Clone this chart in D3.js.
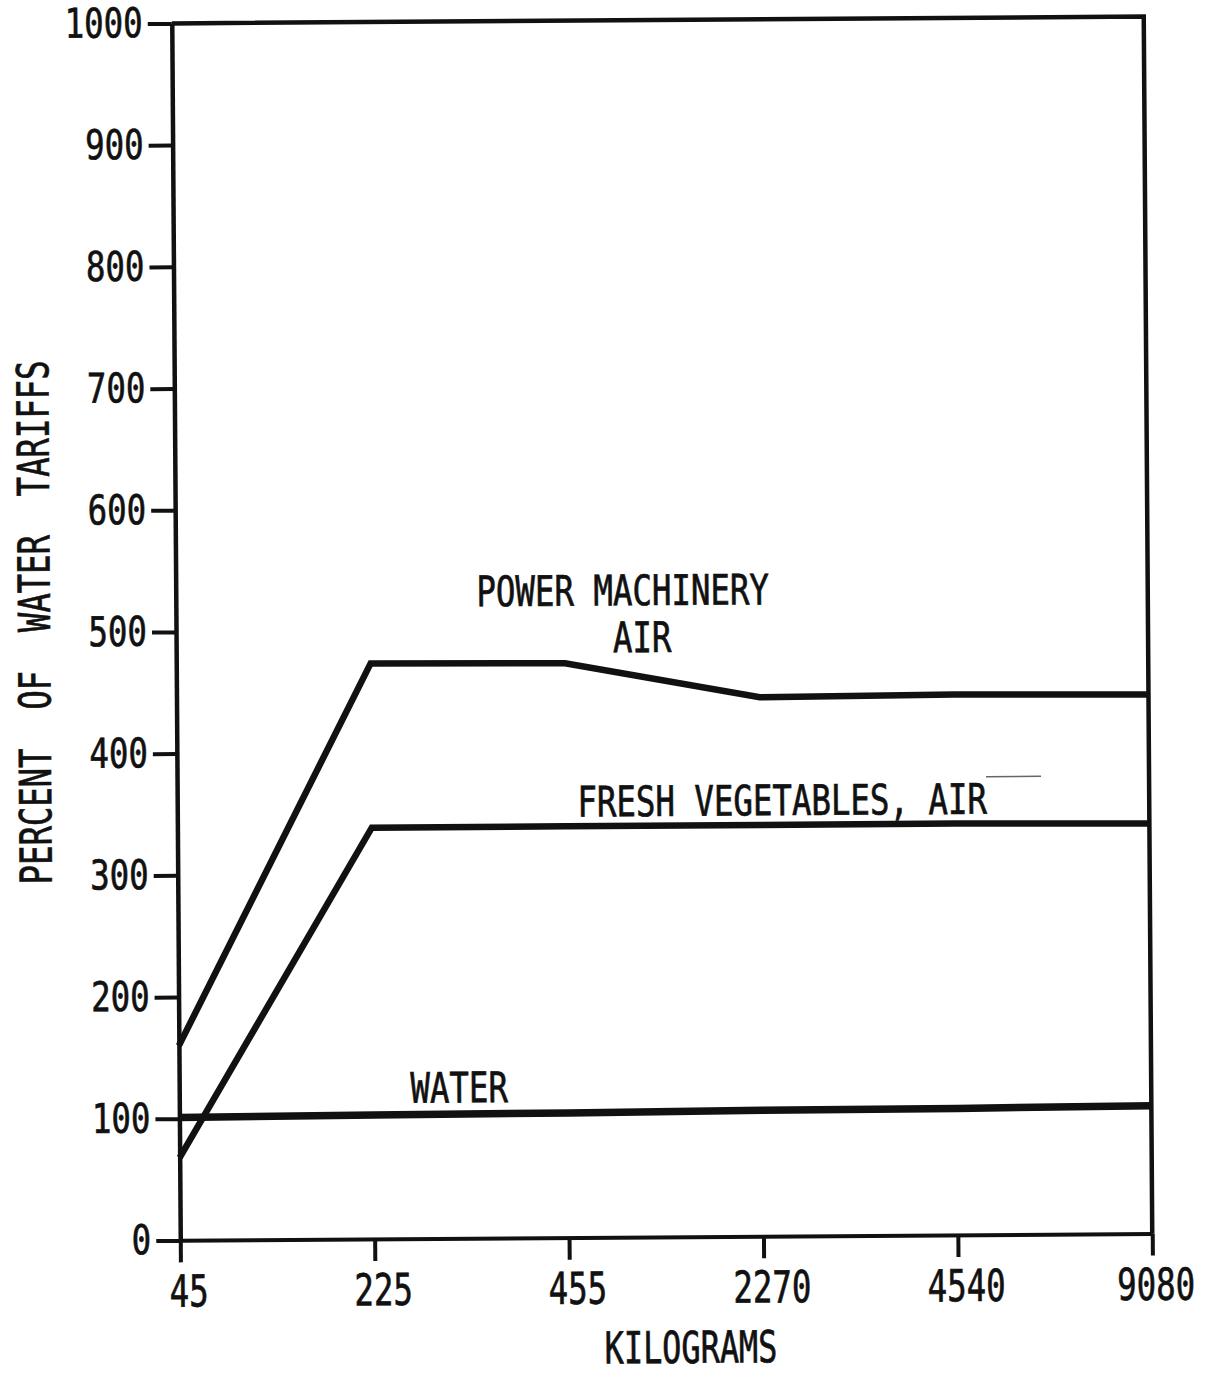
<!DOCTYPE html>
<html>
<head>
<meta charset="utf-8">
<script src="https://cdn.jsdelivr.net/npm/d3@7"></script>
<style>
  html, body { margin: 0; padding: 0; background: #fff; }
  svg { display: block; }
  text { font-family: "DejaVu Sans Mono", "Liberation Mono", monospace; fill: #111; stroke: #111; stroke-width: 0.7px; }
</style>
</head>
<body>
<svg id="chart" width="1212" height="1374"></svg>
<script>
// Shipment weight classes (kg), evenly spaced on the x axis
const kilograms = ["45", "225", "455", "2270", "4540", "9080"];

// Tariffs as a percent of the water tariff
const powerMachineryAir = [160, 473, 472, 443, 444, 443];
const freshVegetablesAir = [68, 338, 338, 338, 338, 337];
const water = [101, 102, 102.5, 103.5, 104, 105];

const yTicks = [0, 100, 200, 300, 400, 500, 600, 700, 800, 900, 1000];

const seriesNames = ["POWER MACHINERY", "AIR", "FRESH VEGETABLES, AIR", "WATER"];
const xTitle = "KILOGRAMS";
const yTitle = "PERCENT  OF  WATER  TARIFFS";

const INK = "#111";
const FONT = '"DejaVu Sans Mono", "Liberation Mono", monospace';
const CHAR_W = 19.5;              // typewriter advance per character
const MONO_ADV = 0.602;           // DejaVu Sans Mono advance, in em

const svg = d3.select("#chart");
const plot = { left: 176, right: 1148, top: 20, bottom: 1237 };

const x = d3.scalePoint().domain(kilograms).range([plot.left, plot.right]);
const y = d3.scaleLinear().domain([0, 1000]).range([plot.bottom, plot.top]);

// The whole sheet sits very slightly askew
const g = svg.append("g").attr("transform", "rotate(-0.4,662,628)");

function condense(sel, perChar) {
  sel.each(function () {
    const t = d3.select(this);
    const n = t.text().length;
    t.attr("textLength", n * perChar).attr("lengthAdjust", "spacingAndGlyphs");
  });
}

// Top and right frame
g.append("path")
  .attr("d", `M${plot.left},${y(1000)}H${plot.right}V${y(0)}`)
  .attr("fill", "none")
  .attr("stroke", INK)
  .attr("stroke-width", 4.5);

// Y axis
const yAxis = g.append("g")
  .attr("transform", `translate(${plot.left},0)`)
  .call(d3.axisLeft(y).tickValues(yTicks).tickSize(24).tickSizeOuter(0)
    .tickPadding(5).tickFormat(d3.format("d")));
yAxis.attr("font-family", FONT).attr("font-size", 41).attr("color", INK);
yAxis.select(".domain").attr("stroke-width", 4.5);
yAxis.selectAll(".tick line").attr("stroke-width", 4);
yAxis.selectAll(".tick text").call(condense, CHAR_W);

// X axis: labels narrowed with a horizontal scale
const X_FONT = 44;
const xSquash = CHAR_W / (X_FONT * MONO_ADV);
const xAxis = g.append("g")
  .attr("transform", `translate(0,${plot.bottom})`)
  .call(d3.axisBottom(x).tickSize(22).tickSizeOuter(0).tickPadding(13));
xAxis.attr("font-family", FONT).attr("font-size", X_FONT).attr("color", INK);
xAxis.select(".domain").attr("stroke-width", 4);
xAxis.selectAll(".tick line").attr("stroke-width", 4);
xAxis.selectAll(".tick text")
  .attr("transform", `scale(${xSquash},1)`)
  .attr("dx", (d, i, n) => (i === n.length - 1 ? 3 : 8) / xSquash);

// Series lines
const line = d3.line()
  .x((d, i) => x(kilograms[i]))
  .y(d => y(d));

[
  { values: powerMachineryAir, width: 6.5 },
  { values: freshVegetablesAir, width: 6.5 },
  { values: water, width: 7.5 }
].forEach(s => {
  g.append("path")
    .datum(s.values)
    .attr("d", line)
    .attr("fill", "none")
    .attr("stroke", INK)
    .attr("stroke-width", s.width)
    .attr("stroke-linejoin", "miter");
});

// Series labels
const labels = [
  { text: seriesNames[0], x: 623, y: 605 },
  { text: seriesNames[1], x: 642, y: 652 },
  { text: seriesNames[2], x: 781, y: 816 },
  { text: seriesNames[3], x: 456, y: 1101 }
];
labels.forEach(l => {
  g.append("text")
    .attr("x", l.x)
    .attr("y", l.y)
    .attr("text-anchor", "middle")
    .attr("font-size", 42)
    .text(l.text)
    .call(condense, CHAR_W);
});

// Stray rule above the vegetables label
g.append("line")
  .attr("x1", 985).attr("x2", 1040)
  .attr("y1", 779).attr("y2", 779)
  .attr("stroke", "#666")
  .attr("stroke-width", 1.5);

// Axis titles
g.append("text")
  .attr("x", 686)
  .attr("y", 1363)
  .attr("text-anchor", "middle")
  .attr("font-size", 44)
  .text(xTitle)
  .call(condense, 19.2);

g.append("text")
  .attr("transform", "translate(50,618) rotate(-90)")
  .attr("text-anchor", "middle")
  .attr("font-size", 44)
  .attr("xml:space", "preserve")
  .style("white-space", "pre")
  .text(yTitle)
  .call(condense, 19.4);
</script>
</body>
</html>
